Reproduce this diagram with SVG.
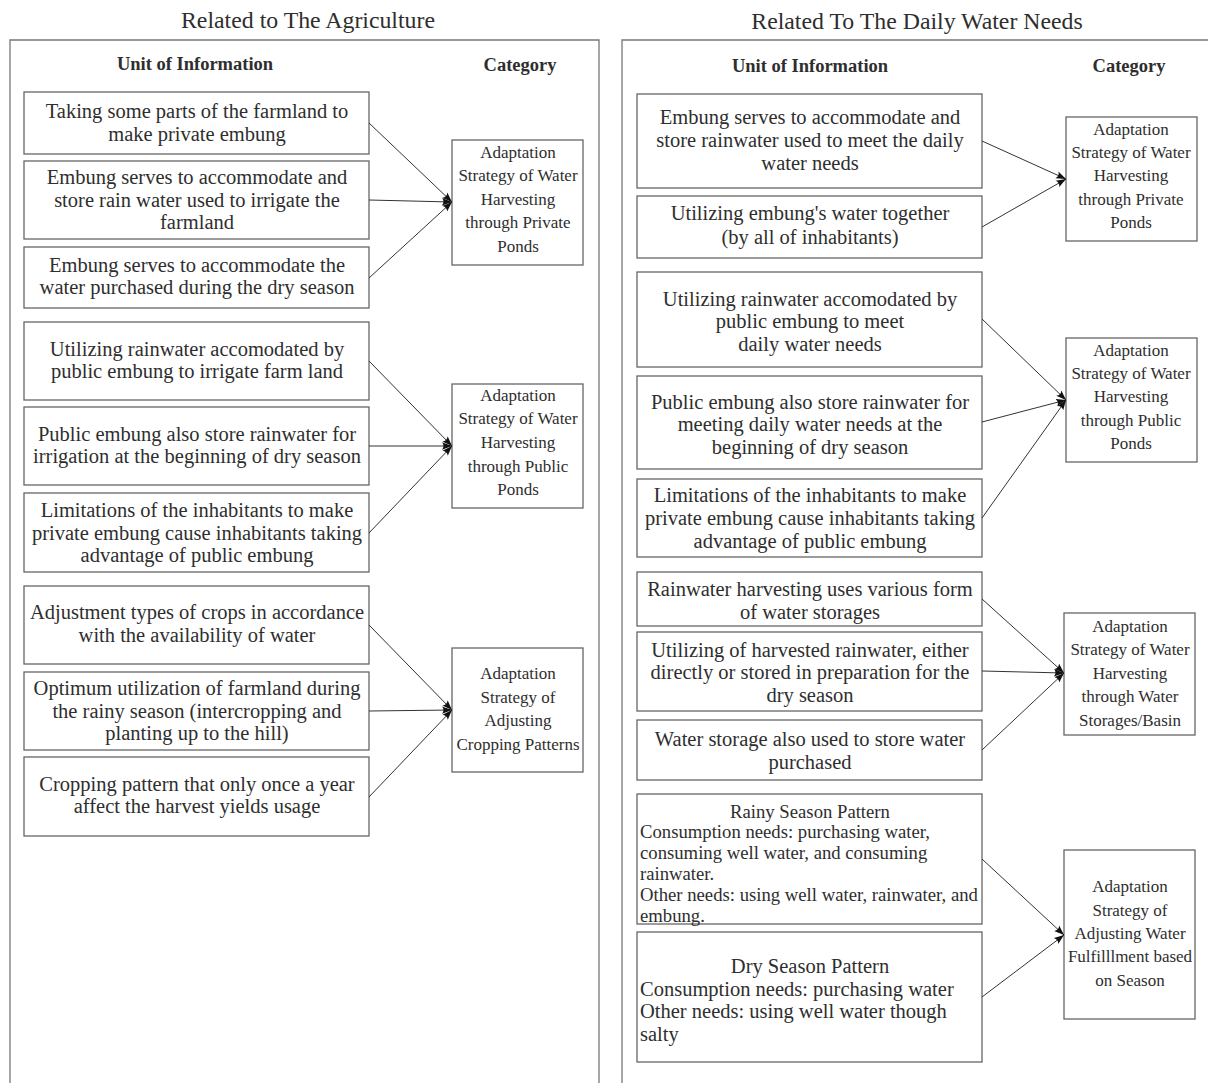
<svg xmlns="http://www.w3.org/2000/svg" width="1208" height="1083" viewBox="0 0 1208 1083">
  <style>
    text { font-family: "Liberation Serif", "Times New Roman", serif; fill: #2e2e2e; }
    .title { font-size: 23.8px; text-anchor: middle; }
    .head { font-size: 18.5px; font-weight: bold; text-anchor: middle; }
    .unit rect, .cat rect { fill: #ffffff; stroke: #666666; stroke-width: 1.3; }
    .unit text { font-size: 20.5px; text-anchor: middle; }
    .unit text.l { text-anchor: start; }
    .unit text.s { font-size: 18.7px; }
    .cat text { font-size: 17px; text-anchor: middle; }
    .panel { fill: none; stroke: #777777; stroke-width: 1.3; }
    #connectors line { stroke: #333333; stroke-width: 1; marker-end: url(#tip); }
  </style>
  <defs>
    <marker id="tip" viewBox="0 0 10 8" refX="10" refY="4" markerWidth="10" markerHeight="8" markerUnits="userSpaceOnUse" orient="auto">
      <path d="M0,0.3 Q3,4 0,7.7 L10,4 Z" fill="#111111"/>
    </marker>
  </defs>
  <rect width="1208" height="1083" fill="#ffffff"/>

  <!-- panel frames -->
  <path class="panel" d="M10,1090 V40 H599 V1090"/>
  <path class="panel" d="M622,1090 V40 H1215"/>

  <!-- titles and column headings -->
  <text class="title" x="308" y="28">Related to The Agriculture</text>
  <text class="title" x="917" y="29">Related To The Daily Water Needs</text>
  <text class="head" x="195" y="70">Unit of Information</text>
  <text class="head" x="520" y="71">Category</text>
  <text class="head" x="810" y="72">Unit of Information</text>
  <text class="head" x="1129" y="72">Category</text>

  <!-- agriculture: units of information -->
  <g id="a1" class="unit"><rect x="24" y="92" width="345" height="62"/>
    <text x="197" y="118">Taking some parts of the farmland to</text>
    <text x="197" y="141">make private embung</text></g>
  <g id="a2" class="unit"><rect x="24" y="161" width="345" height="78"/>
    <text x="197" y="184">Embung serves to accommodate and</text>
    <text x="197" y="207">store rain water used to irrigate the</text>
    <text x="197" y="229">farmland</text></g>
  <g id="a3" class="unit"><rect x="24" y="247" width="345" height="61"/>
    <text x="197" y="272">Embung serves to accommodate the</text>
    <text x="197" y="294">water purchased during the dry season</text></g>
  <g id="a4" class="unit"><rect x="24" y="322" width="345" height="78"/>
    <text x="197" y="356">Utilizing rainwater accomodated by</text>
    <text x="197" y="378">public embung to irrigate farm land</text></g>
  <g id="a5" class="unit"><rect x="24" y="407" width="345" height="78"/>
    <text x="197" y="441">Public embung also store rainwater for</text>
    <text x="197" y="463">irrigation at the beginning of dry season</text></g>
  <g id="a6" class="unit"><rect x="24" y="493" width="345" height="79"/>
    <text x="197" y="517">Limitations of the inhabitants to make</text>
    <text x="197" y="540">private embung cause inhabitants taking</text>
    <text x="197" y="562">advantage of public embung</text></g>
  <g id="a7" class="unit"><rect x="24" y="586" width="345" height="78"/>
    <text x="197" y="619">Adjustment types of crops in accordance</text>
    <text x="197" y="642">with the availability of water</text></g>
  <g id="a8" class="unit"><rect x="24" y="672" width="345" height="78"/>
    <text x="197" y="695">Optimum utilization of farmland during</text>
    <text x="197" y="718">the rainy season (intercropping and</text>
    <text x="197" y="740">planting up to the hill)</text></g>
  <g id="a9" class="unit"><rect x="24" y="757" width="345" height="79"/>
    <text x="197" y="791">Cropping pattern that only once a year</text>
    <text x="197" y="813">affect the harvest yields usage</text></g>

  <!-- agriculture: categories -->
  <g id="catA" class="cat"><rect x="452" y="140" width="131" height="125"/>
    <text x="518" y="158">Adaptation</text>
    <text x="518" y="181">Strategy of Water</text>
    <text x="518" y="205">Harvesting</text>
    <text x="518" y="228">through Private</text>
    <text x="518" y="252">Ponds</text></g>
  <g id="catB" class="cat"><rect x="452" y="384" width="131" height="124"/>
    <text x="518" y="401">Adaptation</text>
    <text x="518" y="424">Strategy of Water</text>
    <text x="518" y="448">Harvesting</text>
    <text x="518" y="472">through Public</text>
    <text x="518" y="495">Ponds</text></g>
  <g id="catC" class="cat"><rect x="452" y="648" width="131" height="124"/>
    <text x="518" y="679">Adaptation</text>
    <text x="518" y="703">Strategy of</text>
    <text x="518" y="726">Adjusting</text>
    <text x="518" y="750">Cropping Patterns</text></g>

  <!-- daily water needs: units of information -->
  <g id="d1" class="unit"><rect x="637" y="94" width="345" height="94"/>
    <text x="810" y="124">Embung serves to accommodate and</text>
    <text x="810" y="147">store rainwater used to meet the daily</text>
    <text x="810" y="170">water needs</text></g>
  <g id="d2" class="unit"><rect x="637" y="196" width="345" height="62"/>
    <text x="810" y="220">Utilizing embung's water together</text>
    <text x="810" y="244">(by all of inhabitants)</text></g>
  <g id="d3" class="unit"><rect x="637" y="272" width="345" height="95"/>
    <text x="810" y="306">Utilizing rainwater accomodated by</text>
    <text x="810" y="328">public embung to meet</text>
    <text x="810" y="351">daily water needs</text></g>
  <g id="d4" class="unit"><rect x="637" y="376" width="345" height="93"/>
    <text x="810" y="409">Public embung also store rainwater for</text>
    <text x="810" y="431">meeting daily water needs at the</text>
    <text x="810" y="454">beginning of dry season</text></g>
  <g id="d5" class="unit"><rect x="637" y="479" width="345" height="78"/>
    <text x="810" y="502">Limitations of the inhabitants to make</text>
    <text x="810" y="525">private embung cause inhabitants taking</text>
    <text x="810" y="548">advantage of public embung</text></g>
  <g id="d6" class="unit"><rect x="637" y="572" width="345" height="54"/>
    <text x="810" y="596">Rainwater harvesting uses various form</text>
    <text x="810" y="619">of water storages</text></g>
  <g id="d7" class="unit"><rect x="637" y="632" width="345" height="79"/>
    <text x="810" y="657">Utilizing of harvested rainwater, either</text>
    <text x="810" y="679">directly or stored in preparation for the</text>
    <text x="810" y="702">dry season</text></g>
  <g id="d8" class="unit"><rect x="637" y="720" width="345" height="60"/>
    <text x="810" y="746">Water storage also used to store water</text>
    <text x="810" y="769">purchased</text></g>
  <g id="d9" class="unit"><rect x="637" y="794" width="345" height="130"/>
    <text class="s" x="810" y="818">Rainy Season Pattern</text>
    <text class="s l" x="640" y="838">Consumption needs: purchasing water,</text>
    <text class="s l" x="640" y="859">consuming well water, and consuming</text>
    <text class="s l" x="640" y="880">rainwater.</text>
    <text class="s l" x="640" y="901">Other needs: using well water, rainwater, and</text>
    <text class="s l" x="640" y="922">embung.</text></g>
  <g id="d10" class="unit"><rect x="637" y="932" width="345" height="130"/>
    <text x="810" y="973">Dry Season Pattern</text>
    <text class="l" x="640" y="996">Consumption needs: purchasing water</text>
    <text class="l" x="640" y="1018">Other needs: using well water though</text>
    <text class="l" x="640" y="1041">salty</text></g>

  <!-- daily water needs: categories -->
  <g id="catD1" class="cat"><rect x="1066" y="117" width="131" height="124"/>
    <text x="1131" y="135">Adaptation</text>
    <text x="1131" y="158">Strategy of Water</text>
    <text x="1131" y="181">Harvesting</text>
    <text x="1131" y="205">through Private</text>
    <text x="1131" y="228">Ponds</text></g>
  <g id="catD2" class="cat"><rect x="1066" y="338" width="131" height="124"/>
    <text x="1131" y="356">Adaptation</text>
    <text x="1131" y="379">Strategy of Water</text>
    <text x="1131" y="402">Harvesting</text>
    <text x="1131" y="426">through Public</text>
    <text x="1131" y="449">Ponds</text></g>
  <g id="catD3" class="cat"><rect x="1064" y="613" width="131" height="122"/>
    <text x="1130" y="632">Adaptation</text>
    <text x="1130" y="655">Strategy of Water</text>
    <text x="1130" y="679">Harvesting</text>
    <text x="1130" y="702">through Water</text>
    <text x="1130" y="726">Storages/Basin</text></g>
  <g id="catD4" class="cat"><rect x="1064" y="850" width="131" height="169"/>
    <text x="1130" y="892">Adaptation</text>
    <text x="1130" y="916">Strategy of</text>
    <text x="1130" y="939">Adjusting Water</text>
    <text x="1130" y="962">Fulfilllment based</text>
    <text x="1130" y="986">on Season</text></g>

  <!-- connectors -->
  <g id="connectors">
    <line x1="369" y1="123" x2="452" y2="202"/>
    <line x1="369" y1="200" x2="452" y2="202"/>
    <line x1="369" y1="278" x2="452" y2="202"/>
    <line x1="369" y1="361" x2="452" y2="446"/>
    <line x1="369" y1="446" x2="452" y2="446"/>
    <line x1="369" y1="533" x2="452" y2="446"/>
    <line x1="369" y1="625" x2="452" y2="710"/>
    <line x1="369" y1="711" x2="452" y2="710"/>
    <line x1="369" y1="797" x2="452" y2="710"/>
    <line x1="982" y1="141" x2="1066" y2="179"/>
    <line x1="982" y1="227" x2="1066" y2="179"/>
    <line x1="982" y1="319" x2="1066" y2="400"/>
    <line x1="982" y1="422" x2="1066" y2="400"/>
    <line x1="982" y1="518" x2="1066" y2="400"/>
    <line x1="982" y1="599" x2="1064" y2="673"/>
    <line x1="982" y1="671" x2="1064" y2="673"/>
    <line x1="982" y1="750" x2="1064" y2="673"/>
    <line x1="982" y1="859" x2="1064" y2="935"/>
    <line x1="982" y1="997" x2="1064" y2="935"/>
  </g>
</svg>
